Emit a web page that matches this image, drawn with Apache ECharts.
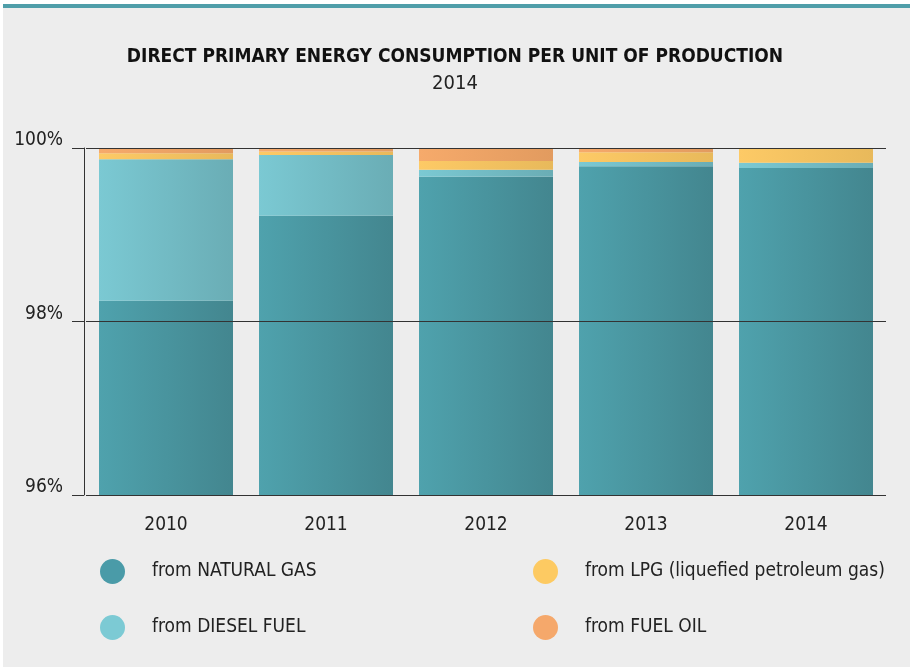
<!DOCTYPE html>
<html>
<head>
<meta charset="utf-8">
<script src="https://cdn.jsdelivr.net/npm/echarts@6/dist/echarts.min.js"></script>
<style>
  html, body { margin: 0; padding: 0; background: #fff; }
  #panel { position: absolute; left: 3px; top: 4px; width: 907px; height: 663px; background: #ededed; border-top: 4px solid #4f9ea9; box-sizing: border-box; }
  #chart { position: absolute; left: 0; top: 0; width: 910px; height: 669px; }
</style>
</head>
<body>
<div id="panel"></div>
<div id="chart"></div>
<script>
var years = ['2010', '2011', '2012', '2013', '2014'];
var naturalGas = [98.24, 99.22, 99.67, 99.79, 99.77];
var dieselFuel = [1.63, 0.70, 0.08, 0.05, 0.06];
var lpg = [0.07, 0.04, 0.10, 0.11, 0.16];
var fuelOil = [0.06, 0.04, 0.15, 0.05, 0.01];
var yTicks = [96, 98, 100];

var FONT = '"Liberation Sans Narrow", "DejaVu Sans Condensed", sans-serif';

// horizontal gradient, lighter on the left
function grad(c1, c2){
    return new echarts.graphic.LinearGradient(0, 0, 1, 0, [
        {offset: 0, color: c1},
        {offset: 1, color: c2}
    ]);
}

function bar(name, data, c1, c2){
    return {
        name: name,
        type: 'bar',
        stack: 'total',
        barWidth: 134,
        data: data,
        itemStyle: {color: grad(c1, c2)},
        emphasis: {disabled: true}
    };
}

var legendText = {fontFamily: FONT, fontSize: 19, color: '#222', padding: [0, 0, 0, 22]};

var chart = echarts.init(document.getElementById('chart'));
var option = {
    backgroundColor: 'transparent',
    animation: false,
    title: {
        text: 'DIRECT PRIMARY ENERGY CONSUMPTION PER UNIT OF PRODUCTION',
        subtext: '2014',
        left: 'center',
        top: 43,
        itemGap: 7,
        textStyle: {fontFamily: FONT, fontWeight: 'bold', fontSize: 19, color: '#111'},
        subtextStyle: {fontFamily: FONT, fontSize: 20, color: '#222'}
    },
    legend: [{
        orient: 'vertical',
        left: 95,
        top: 554,
        itemWidth: 25,
        itemHeight: 26,
        itemGap: 31,
        icon: 'circle',
        selectedMode: false,
        textStyle: legendText,
        data: [
            {name: 'from NATURAL GAS', itemStyle: {color: '#4a9ba8'}},
            {name: 'from DIESEL FUEL', itemStyle: {color: '#7ccad4'}}
        ]
    }, {
        orient: 'vertical',
        left: 528,
        top: 554,
        itemWidth: 25,
        itemHeight: 26,
        itemGap: 31,
        icon: 'circle',
        selectedMode: false,
        textStyle: legendText,
        data: [
            {name: 'from LPG (liquefied petroleum gas)', itemStyle: {color: '#fdca62'}},
            {name: 'from FUEL OIL', itemStyle: {color: '#f5a86b'}}
        ]
    }],
    grid: {left: 86, right: 24, top: 148, bottom: 174},
    xAxis: {
        type: 'category',
        data: years,
        axisLine: {show: false},
        axisTick: {show: false},
        axisLabel: {fontFamily: FONT, fontSize: 19, color: '#222', margin: 21}
    },
    yAxis: {
        type: 'value',
        min: yTicks[0],
        max: yTicks[yTicks.length - 1],
        interval: 2,
        offset: 2,
        z: 10,
        axisLine: {show: true, lineStyle: {color: '#333', width: 1}},
        axisTick: {show: true, length: 12, lineStyle: {color: '#333'}},
        splitLine: {show: true, lineStyle: {color: '#333', width: 1}},
        axisLabel: {
            fontFamily: FONT, fontSize: 19, color: '#222', margin: 21,
            verticalAlign: 'bottom',
            padding: [0, 0, -2, 0],
            formatter: function(v){ return v + '%'; }
        }
    },
    series: [
        bar('from NATURAL GAS', naturalGas, '#4fa2ad', '#43868f'),
        bar('from DIESEL FUEL', dieselFuel, '#7bc9d3', '#6aadb5'),
        bar('from LPG (liquefied petroleum gas)', lpg, '#fdca66', '#e8b95b'),
        bar('from FUEL OIL', fuelOil, '#f6aa6b', '#e29b5f')
    ]
};
chart.setOption(option);
</script>
</body>
</html>
